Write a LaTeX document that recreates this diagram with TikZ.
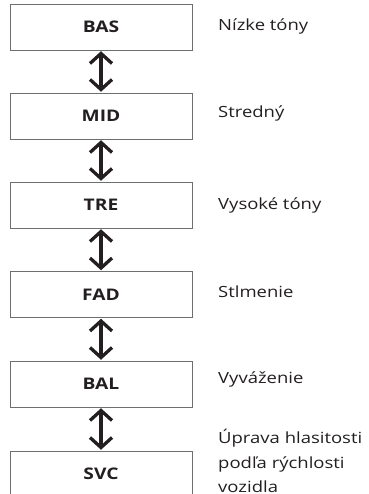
\documentclass[tikz,border=0pt]{standalone}
\usepackage{fontspec}
\setmainfont{Open Sans}[FakeStretch=1.2]
\usetikzlibrary{arrows.meta}
\definecolor{ink}{HTML}{231F20}
\definecolor{boxline}{HTML}{6D6E70}
\begin{document}
\begin{tikzpicture}[x=1pt,y=-1pt,
  box/.style={draw=boxline, line width=0.9pt, minimum width=182pt, minimum height=46pt,
    inner sep=0pt, text=ink, font=\bfseries\fontsize{16}{18}\selectfont},
  lbl/.style={anchor=base west, inner sep=0pt, text=ink, font=\fontsize{15.4}{18}\selectfont},
  dblarrow/.style={draw=ink, line width=3.2pt,
    {Straight Barb[length=10pt, width=22pt, line width=3.3pt]}-{Straight Barb[length=10pt, width=22pt, line width=3.3pt]},
    shorten <=0.8pt, shorten >=0.8pt}]
\useasboundingbox (0,0) rectangle (368,494);
\node[box] (bas) at (101,27) {BAS};
\node[box] (mid) at (101,116) {MID};
\node[box] (tre) at (101,205) {TRE};
\node[box] (fad) at (101,294.5) {FAD};
\node[box] (bal) at (101,384) {BAL};
\node[box] (svc) at (101,474) {SVC};
\draw[dblarrow] (bas.south) -- (mid.north);
\draw[dblarrow] (mid.south) -- (tre.north);
\draw[dblarrow] (tre.south) -- (fad.north);
\draw[dblarrow] (fad.south) -- (bal.north);
\draw[dblarrow] (bal.south) -- (svc.north);
\node[lbl] (l1) at (218,31) {Nízke tóny};
\node[lbl] (l2) at (218,118) {Stredný};
\node[lbl] (l3) at (218,209) {Vysoké tóny};
\node[lbl] (l4) at (218,297) {Stlmenie};
\node[lbl] (l5) at (218,383) {Vyváženie};
\node[lbl] (l6a) at (218,443) {Úprava hlasitosti};
\node[lbl] (l6b) at (218,468) {podľa rýchlosti};
\node[lbl] (l6c) at (218,492.5) {vozidla};
\end{tikzpicture}
\end{document}
